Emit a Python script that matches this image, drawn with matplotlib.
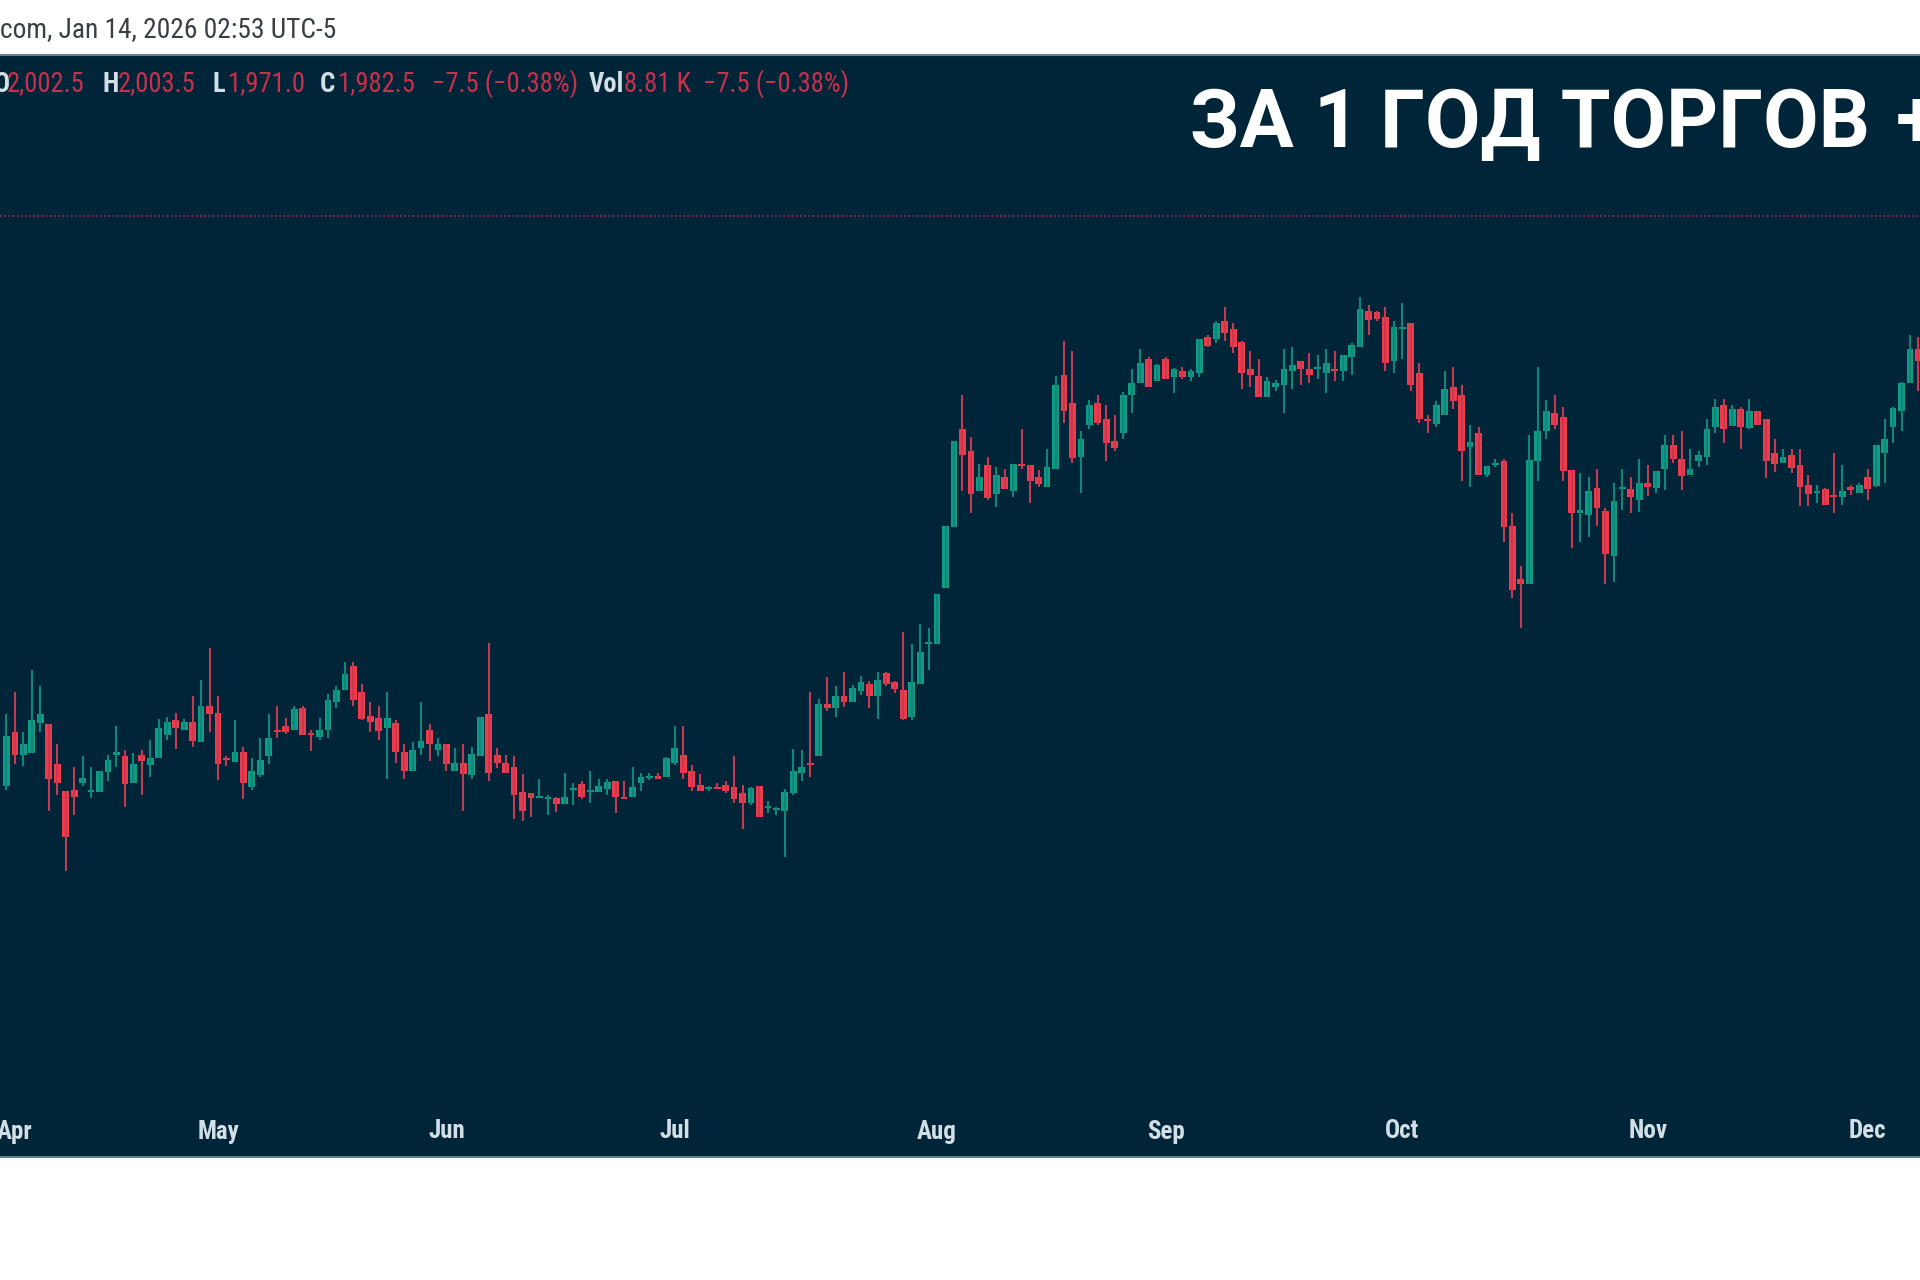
import matplotlib
matplotlib.use("Agg")
import matplotlib.pyplot as plt
import numpy as np

# daily candles
opens = [1412,1466,1443,1445,1475,1474,1434,1407,1408,1415,
         1406,1406,1426,1443,1442,1415,1443,1433,1440,1463,
         1478,1468,1476,1456,1492,1485,1440,1436,1446,1411,
         1423,1442,1468,1472,1468,1490,1465,1461,1468,1496,
         1508,1532,1506,1482,1480,1470,1475,1446,1427,1450,
         1468,1448,1454,1427,1435,1423,1442,1484,1443,1435,
         1431,1406,1405,1400,1399,1400,1394,1408,1414,1406,
         1406,1409,1417,1401,1401,1415,1420,1422,1421,1435,
         1443,1427,1413,1409,1411,1413,1411,1405,1395,1412,
         1390,1388,1387,1405,1425,1435,1442,1494,1490,1502,
         1496,1507,1514,1502,1525,1516,1508,1481,1514,1554,
         1554,1610,1671,1769,1747,1707,1733,1704,1721,1707,
         1734,1733,1721,1711,1729,1823,1795,1741,1773,1795,
         1779,1757,1765,1803,1815,1839,1817,1839,1821,1827,
         1821,1825,1861,1859,1877,1869,1856,1829,1822,1801,
         1811,1813,1827,1837,1829,1829,1825,1829,1827,1841,
         1851,1887,1886,1881,1837,1869,1875,1825,1779,1774,
         1783,1811,1803,1751,1765,1723,1733,1737,1672,1619,
         1614,1737,1767,1785,1781,1728,1685,1683,1710,1687,
         1642,1709,1709,1698,1715,1710,1729,1753,1739,1723,
         1737,1741,1771,1793,1772,1789,1770,1787,1779,1745,
         1735,1743,1733,1713,1705,1709,1703,1701,1711,1705,
         1721,1712,1745,1771,1787,1815,1849]
closes = [1462,1443,1454,1478,1484,1419,1415,1361,1401,1420,
          1408,1427,1438,1446,1414,1434,1437,1440,1470,1476,
          1470,1476,1457,1492,1484,1434,1438,1446,1415,1427,
          1438,1460,1466,1466,1489,1463,1463,1468,1498,1508,
          1524,1498,1479,1476,1467,1480,1446,1427,1448,1457,
          1454,1454,1434,1435,1424,1444,1481,1425,1435,1425,
          1403,1387,1400,1401,1401,1394,1401,1409,1401,1407,
          1412,1416,1401,1399,1411,1421,1422,1419,1440,1450,
          1425,1411,1407,1411,1409,1407,1399,1395,1410,1381,
          1391,1389,1406,1427,1431,1433,1494,1490,1502,1496,
          1510,1516,1502,1518,1514,1509,1479,1516,1546,1555,
          1604,1672,1757,1743,1704,1721,1700,1723,1709,1734,
          1732,1717,1714,1731,1813,1787,1740,1759,1793,1775,
          1755,1750,1803,1815,1835,1811,1833,1819,1829,1821,
          1827,1859,1852,1875,1865,1851,1825,1823,1801,1817,
          1815,1829,1833,1829,1823,1831,1835,1827,1843,1853,
          1889,1878,1879,1835,1871,1871,1813,1779,1777,1793,
          1809,1797,1747,1756,1723,1732,1735,1671,1608,1614,
          1738,1767,1787,1773,1727,1685,1688,1707,1690,1644,
          1697,1710,1701,1715,1711,1727,1753,1739,1722,1729,
          1743,1769,1791,1769,1789,1771,1787,1773,1737,1734,
          1741,1730,1711,1704,1707,1693,1701,1707,1708,1713,
          1709,1753,1759,1790,1815,1849,1837]
highs = [1484,1506,1466,1528,1512,1474,1454,1407,1431,1442,
         1431,1427,1443,1472,1448,1445,1448,1458,1479,1481,
         1485,1479,1502,1518,1550,1502,1442,1478,1451,1440,
         1460,1484,1492,1480,1492,1492,1468,1480,1504,1512,
         1536,1536,1514,1496,1492,1506,1478,1454,1456,1496,
         1474,1460,1454,1450,1454,1451,1481,1555,1450,1443,
         1442,1424,1405,1419,1403,1401,1425,1415,1417,1427,
         1419,1419,1417,1417,1431,1425,1425,1425,1441,1472,
         1472,1433,1424,1412,1415,1417,1442,1413,1411,1412,
         1397,1391,1409,1449,1448,1506,1499,1521,1512,1526,
         1513,1522,1517,1526,1526,1517,1566,1554,1574,1570,
         1604,1672,1757,1803,1761,1734,1741,1731,1729,1734,
         1769,1733,1728,1749,1822,1857,1847,1767,1798,1803,
         1793,1783,1806,1829,1849,1841,1834,1841,1830,1831,
         1829,1859,1863,1877,1891,1875,1857,1847,1839,1821,
         1818,1849,1851,1837,1845,1843,1849,1847,1843,1855,
         1901,1893,1887,1891,1877,1895,1875,1835,1783,1797,
         1827,1831,1813,1773,1771,1732,1739,1739,1685,1632,
         1763,1831,1798,1803,1791,1728,1725,1721,1729,1690,
         1715,1729,1721,1739,1733,1727,1763,1763,1767,1749,
         1747,1779,1799,1799,1793,1791,1799,1787,1779,1759,
         1749,1749,1749,1723,1713,1710,1745,1733,1713,1715,
         1729,1753,1779,1791,1816,1863,1861]
lows = [1408,1434,1432,1445,1466,1387,1403,1327,1383,1412,
        1400,1406,1417,1431,1391,1415,1403,1421,1440,1458,
        1449,1468,1451,1456,1466,1418,1432,1436,1399,1408,
        1421,1434,1460,1464,1468,1463,1447,1458,1460,1490,
        1508,1492,1478,1466,1458,1419,1435,1419,1427,1443,
        1437,1442,1427,1427,1387,1419,1442,1417,1430,1425,
        1379,1377,1381,1400,1383,1386,1394,1393,1399,1395,
        1406,1403,1385,1399,1401,1407,1418,1419,1421,1433,
        1419,1407,1407,1407,1409,1405,1395,1369,1393,1381,
        1385,1383,1341,1403,1417,1421,1442,1487,1481,1491,
        1496,1503,1490,1479,1512,1505,1478,1478,1514,1528,
        1554,1610,1671,1707,1685,1707,1698,1691,1709,1701,
        1729,1695,1711,1711,1729,1775,1735,1705,1769,1773,
        1737,1747,1759,1785,1815,1811,1817,1819,1805,1819,
        1817,1821,1851,1855,1857,1845,1809,1811,1801,1801,
        1807,1785,1809,1813,1815,1819,1805,1817,1817,1823,
        1851,1863,1877,1827,1825,1839,1807,1775,1765,1771,
        1783,1789,1717,1711,1723,1721,1731,1656,1600,1570,
        1614,1717,1759,1769,1717,1650,1656,1661,1672,1614,
        1616,1688,1685,1686,1702,1705,1708,1735,1708,1723,
        1731,1733,1765,1755,1772,1749,1769,1773,1720,1726,
        1735,1725,1692,1692,1695,1693,1685,1693,1703,1705,
        1698,1711,1715,1755,1767,1815,1807]

month_bars = [1, 25, 52, 79, 110, 137, 165, 194, 220]
month_labels = ["Apr", "May", "Jun", "Jul", "Aug", "Sep", "Oct", "Nov", "Dec"]
last_price = 1982.5

BG = "#012538"
UP, UP_WICK = "#0f9c84", "#12857a"
DOWN, DOWN_WICK = "#f23a4b", "#c43a50"
RED_TEXT = "#c9304c"
PALE = "#d3dfe6"
NARROW = ["Liberation Sans Narrow", "Roboto Condensed", "Roboto", "DejaVu Sans"]
W, H = 1920, 1280

opens, closes = np.array(opens), np.array(closes)
highs, lows = np.array(highs), np.array(lows)
x = np.arange(len(opens))
up = closes >= opens


def put(px, py, s, **kw):
    # place text by pixel position of the final image
    return fig.text(px / W, 1 - py / H, s, **kw)


fig = plt.figure(figsize=(W / 100, H / 100), dpi=100, facecolor="white")
ax = fig.add_axes([0, 1 - 1157 / H, 1, (1157 - 55) / H], facecolor=BG)
ax.set_xlim(-6.5 / 8.46, (W - 6.5) / 8.46)
ax.set_ylim(1041, 2143)

ax.vlines(x[up], lows[up], highs[up], color=UP_WICK, linewidth=1.5)
ax.vlines(x[~up], lows[~up], highs[~up], color=DOWN_WICK, linewidth=1.5)
ax.bar(x[up], (closes - opens)[up].clip(2), bottom=opens[up], width=0.8, color=UP)
ax.bar(x[~up], (opens - closes)[~up].clip(2), bottom=closes[~up], width=0.8, color=DOWN)

ax.axhline(last_price, color="#a52c58", linewidth=1.2, linestyle=(0, (1, 1.5)))

ax.set_yticks([])
ax.set_xticks(month_bars, month_labels)
ax.tick_params(axis="x", length=0, pad=-27, labelsize=18, labelcolor=PALE)
for lab in ax.get_xticklabels():
    lab.set_family(NARROW)
    lab.set_fontweight("bold")
for name, sp in ax.spines.items():
    sp.set_visible(name in ("top", "bottom"))
    sp.set_linewidth(1.5)
ax.spines["top"].set_color("#6f7f8a")
ax.spines["bottom"].set_color("#5d8296")

put(0, 30, "com, Jan 14, 2026 02:53 UTC-5", fontsize=19.8, color="#3a3f45", family=NARROW, va="center")

legend = [(-6, "O", PALE), (7, "2,002.5", RED_TEXT), (103, "H", PALE), (118, "2,003.5", RED_TEXT),
          (213, "L", PALE), (228, "1,971.0", RED_TEXT), (320, "C", PALE), (338, "1,982.5", RED_TEXT),
          (432, "\u22127.5 (\u22120.38%)", RED_TEXT), (589, "Vol", PALE), (624, "8.81 K", RED_TEXT),
          (703, "\u22127.5 (\u22120.38%)", RED_TEXT)]
for px, s, col in legend:
    put(px, 84, s, fontsize=19.2, color=col, family=NARROW, va="center",
        fontweight="bold" if col == PALE else "normal")

title_font = ["Roboto", "DejaVu Sans"]
put(1190, 147, "ЗА 1 ГОД ТОРГОВ", fontsize=58, color="white", fontweight="bold",
    family=title_font, va="baseline")
put(1896, 147, "+", fontsize=58, color="white", fontweight="bold", family=title_font, va="baseline")

fig.savefig("out.png", dpi=100, facecolor="white")
